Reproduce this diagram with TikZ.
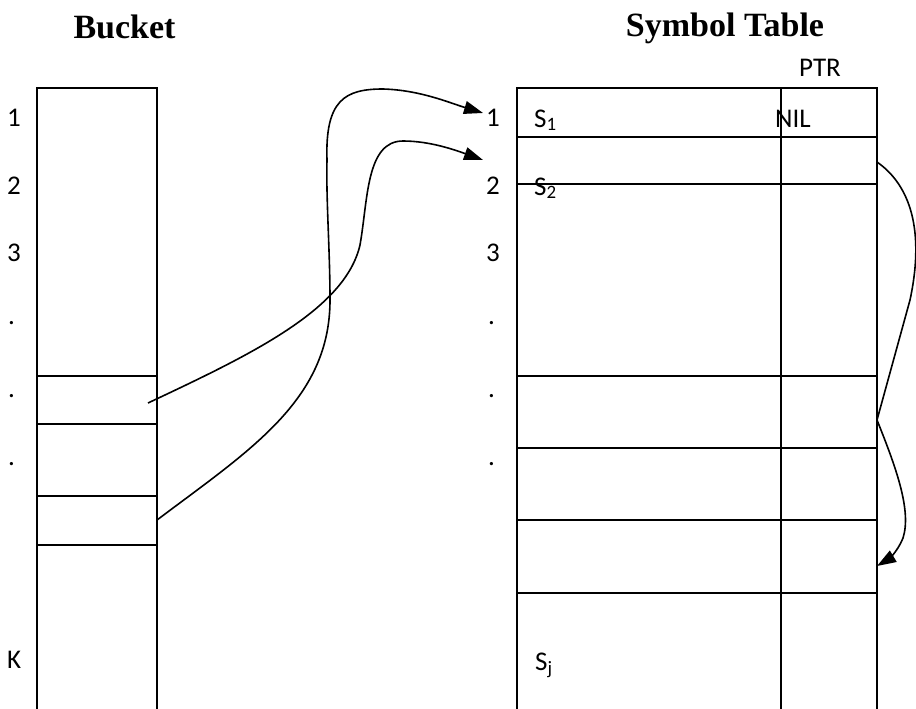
\documentclass[tikz,border=0pt]{standalone}
\usepackage{fontspec}
\setmainfont{Carlito}
\newfontfamily\titlefont{Liberation Serif}
\usetikzlibrary{arrows.meta}
\begin{document}
\begin{tikzpicture}[x=1pt,y=-1pt,
  boxline/.style={line width=2pt},
  conn/.style={line width=1.6pt,-{Triangle[length=19pt,width=13pt]}},
  lab/.style={font=\fontsize{27}{32}\selectfont,anchor=base west,inner sep=0pt},
  ttl/.style={font=\titlefont\bfseries\fontsize{34}{40}\selectfont,anchor=base,inner sep=0pt}]
\useasboundingbox (0,0) rectangle (916,709);

% titles
\node[ttl] (tbucket) at (124.5,39) {Bucket};
\node[ttl] (tsym) at (725,37) {Symbol Table};

% bucket column
\draw[boxline] (37,712) -- (37,88) -- (157,88) -- (157,712);
\foreach \yy in {376,424,496,545} \draw[boxline] (37,\yy) -- (157,\yy);

% symbol table
\draw[boxline] (517,712) -- (517,88) -- (877,88) -- (877,712);
\draw[boxline] (781,88) -- (781,712);
\foreach \yy in {137,184,376,448,520,593} \draw[boxline] (517,\yy) -- (877,\yy);

% bucket labels
\node[lab] (b1) at (7,126) {1};
\node[lab] (b2) at (7,194) {2};
\node[lab] (b3) at (7,261) {3};
\node[lab] (bd1) at (8,324) {.};
\node[lab] (bd2) at (8,397) {.};
\node[lab] (bd3) at (8,465) {.};
\node[lab] (bk) at (7,668) {K};

% symbol table labels
\node[lab] (s1) at (486,126) {1};
\node[lab] (s2) at (486,194) {2};
\node[lab] (s3) at (486,261) {3};
\node[lab] (sd1) at (488,324) {.};
\node[lab] (sd2) at (488,397) {.};
\node[lab] (sd3) at (488,465) {.};

\node[lab] (S1) at (534,127) {S\textsubscript{1}};
\node[lab] (S2) at (534,195) {S\textsubscript{2}};
\node[lab] (Sj) at (535,670) {S\textsubscript{j}};
\node[lab] (nil) at (775,127) {NIL};
\node[lab] (ptr) at (799,77) {PTR};

% connector end points
\coordinate (bA) at (148,403);
\coordinate (bB) at (157,520);
\coordinate (t1) at (483,113);
\coordinate (t2) at (483,160);
\coordinate (c1) at (877,162);
\coordinate (c2) at (877,566);

% connector from lower bucket cell to row 1
\draw[conn] (bB) .. controls (250,450) and (330,400) .. (330,300)
  .. controls (330,250) and (326,200) .. (327,160)
  .. controls (325,100) and (345,89) .. (383,89)
  .. controls (420,90) and (450,103) .. (t1);

% connector from upper bucket cell to row 2
\draw[conn] (bA) .. controls (250,355) and (345,310) .. (360,245)
  .. controls (368,200) and (366,141) .. (403,141)
  .. controls (430,141) and (455,150) .. (t2);

% chain pointer on the right
\draw[conn] (c1) .. controls (910,185) and (925,230) .. (910,300)
  -- (877,420)
  .. controls (895,465) and (912,510) .. (903,538)
  .. controls (897,553) and (887,560) .. (c2);
\end{tikzpicture}
\end{document}
